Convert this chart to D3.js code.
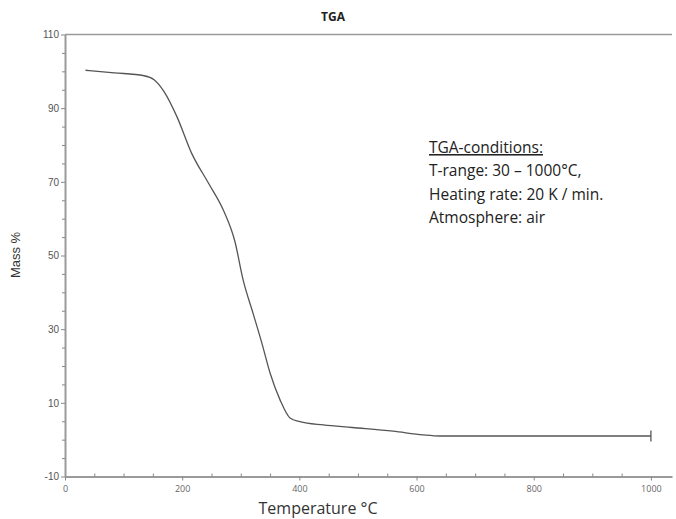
<!DOCTYPE html>
<html>
<head>
<meta charset="utf-8">
<script src="https://cdn.jsdelivr.net/npm/d3@7"></script>
<style>
  body { margin: 0; background: #fff; }
  #chart { width: 676px; height: 519px; }
</style>
</head>
<body>
<div id="chart"></div>
<script>
// DATA
const temperature = [35, 84, 135, 152, 169, 191, 216, 245, 270, 290, 304, 321, 336, 350, 367, 384, 401, 441, 490, 560, 611, 640, 800, 1000];
const massPct =     [100.3, 99.6, 98.8, 97.7, 94.5, 87.7, 77.8, 69.6, 62.4, 53.8, 43.4, 34.3, 26.2, 18.1, 10.8, 5.9, 4.9, 4.0, 3.3, 2.3, 1.3, 1.0, 1.0, 1.0];
const xTicks = [0, 200, 400, 600, 800, 1000];
const yTicks = [-10, 10, 30, 50, 70, 90, 110];
const notes = ["TGA-conditions:", "T-range: 30 \u2013 1000\u00b0C,", "Heating rate: 20 K / min.", "Atmosphere: air"];

const width = 676, height = 519;
const data = temperature.map((t, i) => ({t: t, m: massPct[i]}));

// SCALES
const xScale = d3.scaleLinear().domain([0, 1036]).range([65, 672]);
const yScale = d3.scaleLinear().domain([-10, 110]).range([476.5, 34.5]);

const svg = d3.select('#chart').append('svg')
    .attr('width', width)
    .attr('height', height);

// frame line at top
svg.append('line')
    .attr('x1', xScale(0)).attr('x2', xScale(1036))
    .attr('y1', yScale(110)).attr('y2', yScale(110))
    .attr('stroke', '#9a9a9a').attr('stroke-width', 1.5);

// AXES
const minorX = d3.range(0, 1001, 50).filter(v => v % 200 !== 0);
const minorY = d3.range(-10, 111, 5).filter(v => (v + 10) % 20 !== 0);

const xAxisGroup = svg.append('g')
    .attr('transform', `translate(0, ${yScale(-10)})`)
    .call(d3.axisBottom(xScale).tickValues(xTicks).tickSize(4).tickSizeOuter(0).tickFormat(d => String(d)));
svg.append('g')
    .attr('transform', `translate(0, ${yScale(-10)})`)
    .call(d3.axisBottom(xScale).tickValues(minorX).tickSize(-3).tickFormat('').tickSizeOuter(0))
    .select('.domain').remove();

const yAxisGroup = svg.append('g')
    .attr('transform', `translate(${xScale(0)}, 0)`)
    .call(d3.axisLeft(yScale).tickValues(yTicks).tickSize(4).tickSizeOuter(0).tickFormat(d => String(d)));
svg.append('g')
    .attr('transform', `translate(${xScale(0)}, 0)`)
    .call(d3.axisLeft(yScale).tickValues(minorY).tickSize(3).tickFormat('').tickSizeOuter(0))
    .select('.domain').remove();

svg.selectAll('.domain').attr('stroke', '#9a9a9a').attr('stroke-width', 2);
svg.selectAll('.tick line').attr('stroke', '#888');

xAxisGroup.selectAll('text')
    .attr('fill', '#666')
    .style('font-family', 'Open Sans, sans-serif')
    .style('font-size', '9px')
    .attr('dy', '0.9em');

yAxisGroup.selectAll('text')
    .attr('fill', '#555')
    .style('font-family', 'Liberation Sans, Arial, sans-serif')
    .style('font-size', '10px')
    .attr('x', -6);

// CURVE
const massLine = d3.line()
    .x(d => xScale(d.t))
    .y(d => yScale(d.m))
    .curve(d3.curveMonotoneX);

svg.append('path')
    .datum(data)
    .attr('fill', 'none')
    .attr('stroke', '#555')
    .attr('stroke-width', 1.3)
    .attr('d', massLine);

// end marker
const last = data[data.length - 1];
svg.append('line')
    .attr('x1', xScale(last.t)).attr('x2', xScale(last.t))
    .attr('y1', yScale(last.m) - 5.5).attr('y2', yScale(last.m) + 5.5)
    .attr('stroke', '#555').attr('stroke-width', 1.3);

// TITLES
svg.append('text')
    .attr('x', 333).attr('y', 21)
    .attr('text-anchor', 'middle')
    .style('font-family', 'Open Sans, sans-serif')
    .style('font-weight', 'bold')
    .style('font-size', '12px')
    .attr('fill', '#222')
    .text('TGA');

svg.append('text')
    .attr('transform', 'translate(20, 255) rotate(-90)')
    .attr('text-anchor', 'middle')
    .style('font-family', 'Liberation Sans, Arial, sans-serif')
    .style('font-size', '13px')
    .attr('fill', '#333')
    .text('Mass %');

svg.append('text')
    .attr('x', 318).attr('y', 514)
    .attr('text-anchor', 'middle')
    .style('font-family', 'Open Sans, sans-serif')
    .style('font-size', '16px')
    .attr('fill', '#333')
    .text('Temperature \u00b0C');

// ANNOTATION
const note = svg.append('g').attr('transform', 'translate(429, 0)');
note.selectAll('text')
    .data(notes)
    .join('text')
    .attr('x', 0)
    .attr('y', (d, i) => 153 + i * 23.3)
    .style('font-family', 'Open Sans, sans-serif')
    .style('font-size', '15.5px')
    .style('text-decoration', (d, i) => i === 0 ? 'underline' : 'none')
    .attr('fill', '#222')
    .text(d => d);
</script>
</body>
</html>
